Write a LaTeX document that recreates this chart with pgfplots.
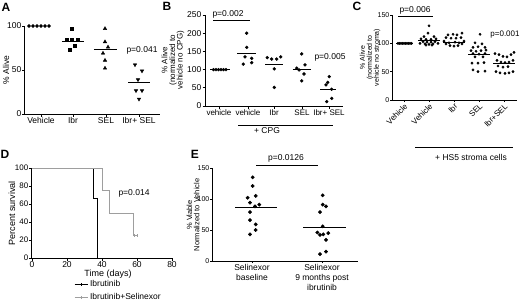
\documentclass[border=0pt]{standalone}
\usepackage{fontspec}
\setmainfont{Liberation Sans}
\usepackage{pgfplots}
\pgfplotsset{compat=1.18}
\newcommand{\fs}{\fontsize{8.5}{9}\selectfont}
\newcommand{\fsm}{\fontsize{7}{8}\selectfont}
\newcommand{\pl}{\fontsize{12}{12}\selectfont\bfseries}
\definecolor{survgray}{gray}{0.62}
\pgfplotsset{
  gp/.style={scale only axis, anchor=south west, axis lines*=left,
    axis line style={line width=1pt,-}, tick align=outside,
    major tick length=2.5pt, tick style={line width=0.8pt,black},
    tick label style={font=\fs}, clip=false,
    /pgf/number format/assume math mode=true,
    xticklabel style={inner sep=1pt}, yticklabel style={inner sep=1pt}},
  meanline/.style={black, line width=0.8pt, no marks},
  dots/.style={only marks, mark=*, mark size=#1, black},
}
\begin{document}
\begin{tikzpicture}
\useasboundingbox (0,0) rectangle (520pt,301pt);
% ---------------- A ----------------
\begin{axis}[gp, at={(25pt,187pt)}, width=135pt, height=88pt,
  xmin=25, xmax=160, ymin=0, ymax=100, ytick={0,50,100},
  xtick={41,73,106,139}, xticklabels={Vehicle,Ibr,SEL,Ibr+ SEL}]
\addplot[dots=1.6pt] coordinates {(29,100)(33,100)(37,100)(41,100)(45,100)(49,100)};
\addplot[only marks, mark=square*, mark size=1.5pt, black] coordinates {(72,96.6)(67,84)(72,85)(78,85)(75,78)(70,73)};
\addplot[meanline] coordinates {(62,82)(84,82)};
\addplot[only marks, mark=triangle*, mark size=2pt, black] coordinates {(105,97)(105,82)(108,76)(103,69)(105,61)(105,52)};
\addplot[meanline] coordinates {(94,73)(117,73)};
\addplot[only marks, mark=triangle*, mark options={rotate=180}, mark size=2pt, black] coordinates {(135,56)(142,49)(138,39)(136,26.5)(142,26.5)(139,17)};
\addplot[meanline] coordinates {(128,35.6)(150,35.6)};
\end{axis}
% ---------------- B ----------------
\begin{axis}[gp, at={(205pt,195pt)}, width=138pt, height=91pt,
  xmin=205, xmax=343, ymin=0, ymax=250, ytick={0,50,...,250},
  xtick={219,248,274,302,329}, xticklabels={vehicle,vehicle,Ibr,SEL,Ibr+ SEL},
  xticklabel style={font=\fontsize{8}{9}\selectfont}]
\addplot[dots=1.5pt] coordinates {(213.5,100)(216,100)(218.5,100)(221,100)(223.5,100)(226,100)};
\addplot[meanline] coordinates {(210,100)(230,100)};
\addplot[dots=1.5pt] coordinates {(246.7,200)(246.7,161)(245,135)(251.7,131)(243.3,115)(251.7,119)};
\addplot[meanline] coordinates {(237,145)(256,145)};
\addplot[dots=1.5pt] coordinates {(267.3,133)(271.7,129)(276.7,129)(280.7,135)(274.3,102)(274.3,51)};
\addplot[meanline] coordinates {(265,114.5)(283,114.5)};
\addplot[dots=1.5pt] coordinates {(301.7,143)(305,113)(296.7,104)(299,99)(304,88)(301.7,69)};
\addplot[meanline] coordinates {(292.7,101)(310.7,101)};
\addplot[dots=1.5pt] coordinates {(329.3,80.6)(327.7,65)(326,58)(331.7,46)(331.7,21)(326.7,12)};
\addplot[meanline] coordinates {(320,46.7)(336,46.7)};
\end{axis}
% ---------------- C ----------------
\begin{axis}[gp, at={(392pt,201pt)}, width=125pt, height=85pt,
  xmin=392, xmax=517, ymin=0, ymax=150, ytick={0,50,100,150},
  major tick length=2pt,
  yticklabel style={font=\fsm, inner sep=0.5pt},
  xtick={404,429,454,479,504}, xticklabels={Vehicle,Vehicle,Ibr,SEL,Ibr+SEL},
  xticklabel style={rotate=45, anchor=north east, inner sep=0.5pt, font=\fontsize{8}{9}\selectfont}]
\addplot[dots=1.2pt] coordinates {(398,100)(399.5,100)(401,100)(402.5,100)(404,100)(405.5,100)(407,100)(408.5,100)(410,100)(411.5,100)};
\addplot[meanline] coordinates {(396,100)(413,100)};
\addplot[dots=1.2pt] coordinates {(429,131)(428,118)(424,112)(434,112)(421,108)(426,107)(431,107)(436,108)(423,103)(427,102)(431,102)(435,103)(420,100)(425,99)(429,98)(433,99)(438,100)(426,97)(432,97)};
\addplot[meanline] coordinates {(418,106)(440,106)};
\addplot[dots=1.2pt] coordinates {(448,115)(453,116)(457,115)(462,118)(446,110)(451,109)(456,109)(461,110)(444,104)(464,104)(446,99)(450,96)(454,95)(458,96)(462,99)(449,101)(455,102)(459,101)};
\addplot[meanline] coordinates {(443,102)(465,102)};
\addplot[dots=1.2pt] coordinates {(480,116)(475,101)(482,99)(473,93)(478,94)(485,93)(471,87)(476,86)(481,87)(486,88)(473,82)(479,81)(485,82)(475,76)(483,76)(472,65)(478,65)(484,66)(473,53)(478,50)(485,51)};
\addplot[meanline] coordinates {(468,80)(490,80)};
\addplot[dots=1.2pt] coordinates {(495,82)(499,80)(503,77)(507,76)(511,80)(514,84)(497,70)(501,67)(505,66)(509,67)(513,70)(498,60)(503,58)(508,59)(496,50)(500,48)(505,47)(509,48)(513,50)};
\addplot[meanline] coordinates {(493,65)(515,65)};
\end{axis}
% ---------------- D ----------------
\begin{axis}[gp, at={(32pt,43pt)}, width=140pt, height=90pt,
  xmin=0, xmax=80, ymin=0, ymax=100, xtick={0,20,...,80}, ytick={0,20,...,100},
  yticklabel style={font=\fontsize{8}{9}\selectfont},
  legend style={draw=none, fill=none, at={(axis description cs:0.3,-0.225)}, anchor=north west,
    font=\fs, row sep=1.5pt, inner sep=0pt},
  legend cell align=left,
  legend image code/.code={\draw[#1] (0pt,0pt) -- (13pt,0pt); \draw[#1] (6.5pt,-1.5pt) -- (6.5pt,1.5pt);}]
\addplot[black, line width=0.9pt, no marks] coordinates {(0,100)(35,100)(35,66.7)(37.5,66.7)(37.5,0)};
\addlegendentry{Ibrutinib}
\addplot[survgray, line width=0.9pt, no marks] coordinates {(0,100)(40,100)(40,75)(44.5,75)(44.5,50)(58,50)(58,25)(60,25)};
\addlegendentry{Ibrutinib+Selinexor}
\addplot[survgray, only marks, mark=|, mark size=1.5pt, forget plot] coordinates {(58.6,25)(60,25)};
\end{axis}
% ---------------- E ----------------
\begin{axis}[gp, at={(212pt,40pt)}, width=146pt, height=93pt,
  xmin=212, xmax=358, ymin=0, ymax=150, ytick={0,50,100,150},
  major tick length=2pt,
  yticklabel style={font=\fsm, inner sep=0.5pt},
  xtick={252,322}, xticklabels={{Selinexor\\baseline},{Selinexor\\9 months post\\ibrutinib}},
  xticklabel style={align=center, font=\fontsize{8.5}{10}\selectfont}]
\addplot[dots=1.7pt] coordinates {(247.7,102)(252.7,135)(252.7,121)(255.7,105)(250,94)(255,88)(259.3,91)(250,79)(250,66)(255.7,59)(255.7,50)(250,43)};
\addplot[meanline] coordinates {(235,86)(277,86)};
\addplot[dots=1.7pt] coordinates {(322.7,106)(322.7,91)(326,88)(320,79)(322.7,56)(317.3,46)(328.3,45)(320,42)(323.3,43)(326,34)(326,15)(320,11)};
\addplot[meanline] coordinates {(303,55)(346,55)};
\end{axis}
% ---------------- annotations ----------------
\node[font=\pl] at (6pt,294pt) {A};
\node[font=\pl] at (167pt,295pt) {B};
\node[font=\pl] at (357pt,295pt) {C};
\node[font=\pl] at (5pt,147pt) {D};
\node[font=\pl] at (195pt,147pt) {E};
% A
\node[font=\fs, rotate=90] at (6pt,231pt) {\% Alive};
\node[font=\fs] at (142pt,251pt) {p=0.041};
% B
\node[font=\fontsize{8}{7.6}\selectfont, rotate=90, align=center] at (173pt,241pt) {\% Alive\\(normalized to\\vehicle no CPG)};
\node[font=\fs] at (228pt,287pt) {p=0.002};
\draw[line width=0.8pt] (213pt,281pt) -- (250pt,281pt);
\draw[line width=0.8pt] (238pt,176pt) -- (333pt,176pt);
\node[font=\fs] at (267pt,170pt) {+ CPG};
\node[font=\fs] at (330pt,244pt) {p=0.005};
% C
\node[font=\fontsize{7}{7}\selectfont, rotate=90, align=center] at (370pt,243.5pt) {\% Alive\\(normalized to\\vehicle no stroma)};
\node[font=\fs] at (415pt,291pt) {p=0.006};
\draw[line width=0.8pt] (398pt,285pt) -- (433pt,285pt);
\node[font=\fontsize{8}{9}\selectfont] at (505pt,266pt) {p=0.001};
\draw[line width=0.8pt] (415pt,154pt) -- (513pt,154pt);
\node[font=\fs] at (471pt,144pt) {+ HS5 stroma cells};
% D
\node[font=\fontsize{9}{9}\selectfont, rotate=90] at (12pt,88pt) {Percent survival};
\node[font=\fontsize{9}{9}\selectfont] at (108pt,27pt) {Time (days)};
\node[font=\fs] at (134pt,108pt) {p=0.014};
% E
\node[font=\fontsize{7.5}{7.2}\selectfont, rotate=90, align=center] at (193pt,86pt) {\% Viable\\Normalized to Vehicle};
\node[font=\fs] at (286pt,143pt) {p=0.0126};
\draw[line width=0.8pt] (256pt,136pt) -- (318pt,136pt);
\end{tikzpicture}
\end{document}
